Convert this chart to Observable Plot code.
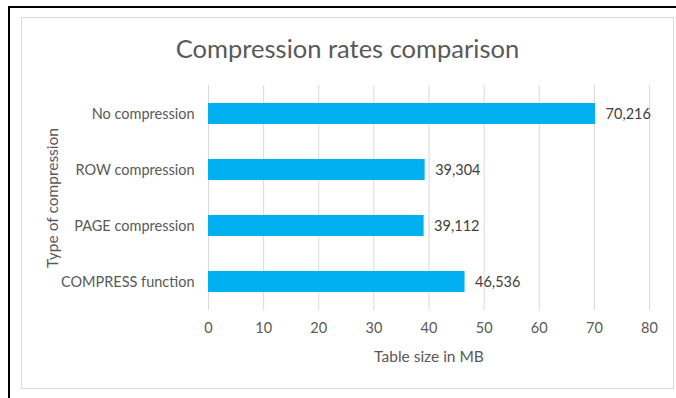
<!DOCTYPE html>
<html>
<head>
<meta charset="utf-8">
<script src="https://cdn.jsdelivr.net/npm/d3@7"></script>
<script src="https://cdn.jsdelivr.net/npm/@observablehq/plot@0.6"></script>
<style>
  html, body { margin: 0; padding: 0; background: #fff; }
  #wrap { position: relative; width: 676px; height: 398px; overflow: hidden; font-family: Lato, "Open Sans", sans-serif; }
  #plot { position: absolute; left: 0; top: 0; }
  .line { position: absolute; background: #000; }
  #box { position: absolute; left: 21px; top: 17px; width: 651px; height: 370px; border: 1px solid #D9D9D9; }
  #title { position: absolute; left: 21px; width: 653px; top: 31px; text-align: center; font-size: 25.5px; color: #595959; line-height: 34px; }
</style>
</head>
<body>
<div id="wrap">
  <div id="box"></div>
  <div id="plot"></div>
  <div class="line" style="left:8px; top:6px; width:668px; height:2px;"></div>
  <div class="line" style="left:8px; top:6px; width:2px; height:392px;"></div>
  <div id="title">Compression rates comparison</div>
</div>
<script>
const categories = ["No compression", "ROW compression", "PAGE compression", "COMPRESS function"];
const sizesMB = [70.216, 39.304, 39.112, 46.536];
const xTicks = [0, 10, 20, 30, 40, 50, 60, 70, 80];

const data = categories.map((c, i) => ({category: c, size: sizesMB[i]}));
const fmt = d3.formatLocale({decimal: ",", thousands: ".", grouping: [3], currency: ["", ""]}).format(".3f");

const chart = Plot.plot({
  width: 676,
  height: 398,
  marginLeft: 208,
  marginRight: 27,
  marginTop: 85,
  marginBottom: 88,
  style: {fontFamily: "Lato, 'Open Sans', sans-serif", background: "transparent", overflow: "visible"},
  x: {domain: [0, 80]},
  y: {type: "band", domain: categories, paddingInner: 0.63, paddingOuter: 0.315},
  marks: [
    Plot.gridX(xTicks, {stroke: "#D9D9D9", strokeOpacity: 1, strokeWidth: 1}),
    Plot.barX(data, {x: "size", y: "category", fill: "#00B0F0"}),
    Plot.text(data, {x: "size", y: "category", text: d => fmt(d.size), textAnchor: "start", dx: 10, fill: "#404040", fontSize: 14.5}),
    Plot.axisX({ticks: xTicks, tickSize: 0, tickPadding: 12, label: null, fill: "#595959", fontSize: 14.5}),
    Plot.axisY({tickSize: 0, tickPadding: 14, label: null, fill: "#595959", fontSize: 14.5}),
    Plot.text(["Table size in MB"], {frameAnchor: "bottom", dy: 47, text: d => d, lineAnchor: "middle", fill: "#595959", fontSize: 15.5}),
    Plot.text(["Type of compression"], {frameAnchor: "left", dx: -155, rotate: -90, text: d => d, textAnchor: "middle", lineAnchor: "middle", fill: "#595959", fontSize: 15.5})
  ]
});
document.getElementById("plot").appendChild(chart);
</script>
</body>
</html>
